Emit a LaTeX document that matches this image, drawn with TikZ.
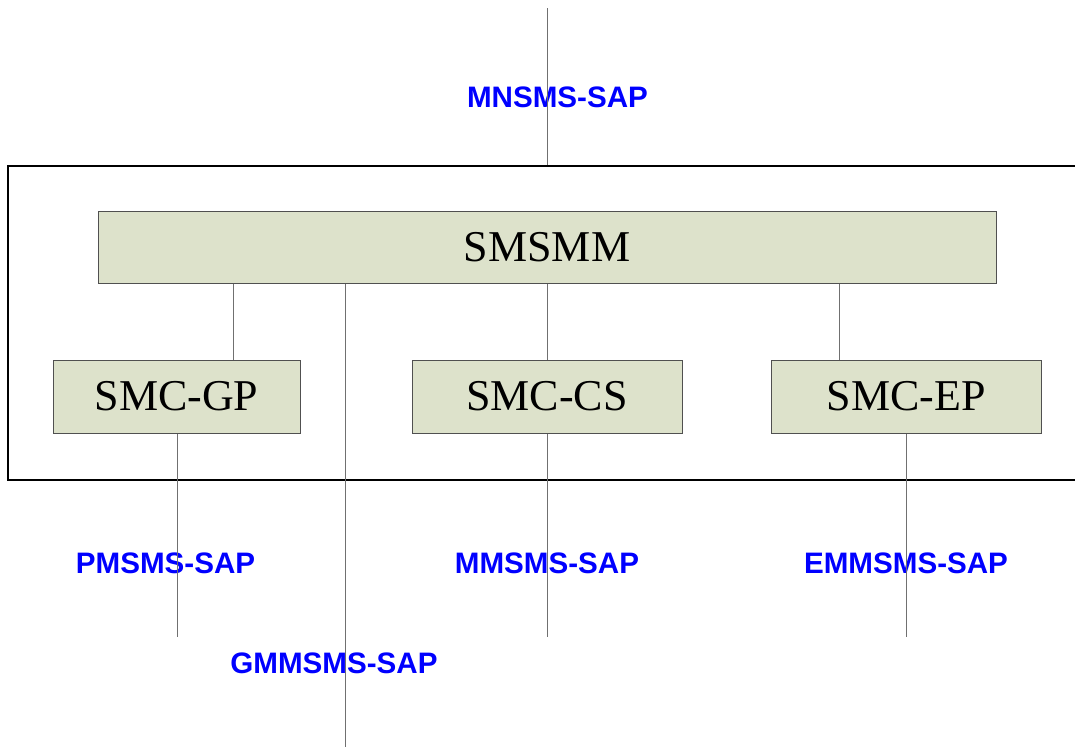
\documentclass[tikz,border=0pt]{standalone}
\usepackage{fontspec}
\setmainfont{Liberation Serif}
\newfontfamily\sapfont{Liberation Sans}
\definecolor{boxfill}{HTML}{DDE2CB}
\definecolor{boxline}{HTML}{505050}
\definecolor{wire}{HTML}{707070}
\tikzset{
  smcbox/.style={draw=boxline, line width=1pt, fill=boxfill, inner sep=0pt,
    minimum height=73pt, font=\fontsize{44}{50}\selectfont},
  sap/.style={text=blue, inner sep=0pt, font=\sapfont\bfseries\fontsize{29.6}{34}\selectfont},
  wire/.style={draw=wire, line width=1pt}
}
\begin{document}
\begin{tikzpicture}[x=1pt,y=-1pt]
  \useasboundingbox (0,0) rectangle (1075,747);
  % entity frame and boxes
  \node[draw=black, line width=1.5pt, minimum width=1072pt, minimum height=314pt, inner sep=0pt](sms) at (544,323) {};
  \node[smcbox, minimum width=898pt, minimum height=72pt](smsmm) at (547,247) {SMSMM};
  \node[smcbox, minimum width=247pt](gp) at (176.5,396.5) {SMC-GP};
  \node[smcbox, minimum width=270pt](cs) at (547,396.5) {SMC-CS};
  \node[smcbox, minimum width=270pt](ep) at (906,396.5) {SMC-EP};
  % service access points
  \node[sap](mnsap) at (557.5,97) {MNSMS-SAP};
  \node[sap](pmsap) at (165.5,563) {PMSMS-SAP};
  \node[sap](mmsap) at (547,563) {MMSMS-SAP};
  \node[sap](emsap) at (906,563) {EMMSMS-SAP};
  \node[sap](gmsap) at (334,663) {GMMSMS-SAP};
  \coordinate (mnTop) at (547,8);
  \coordinate (pmEnd) at (177,637);
  \coordinate (mmEnd) at (547,637);
  \coordinate (emEnd) at (906,637);
  \coordinate (gmEnd) at (345,747);
  % connectors
  \draw[wire] (mnTop) -- (mnTop |- sms.north);
  \draw[wire] (smsmm.south -| 233,0) -- (gp.north -| 233,0);
  \draw[wire] (smsmm.south -| gmEnd) -- (gmEnd);
  \draw[wire] (smsmm.south) -- (cs.north);
  \draw[wire] (smsmm.south -| 839,0) -- (ep.north -| 839,0);
  \draw[wire] (gp.south -| pmEnd) -- (pmEnd);
  \draw[wire] (cs.south) -- (mmEnd);
  \draw[wire] (ep.south) -- (emEnd);
\end{tikzpicture}
\end{document}
